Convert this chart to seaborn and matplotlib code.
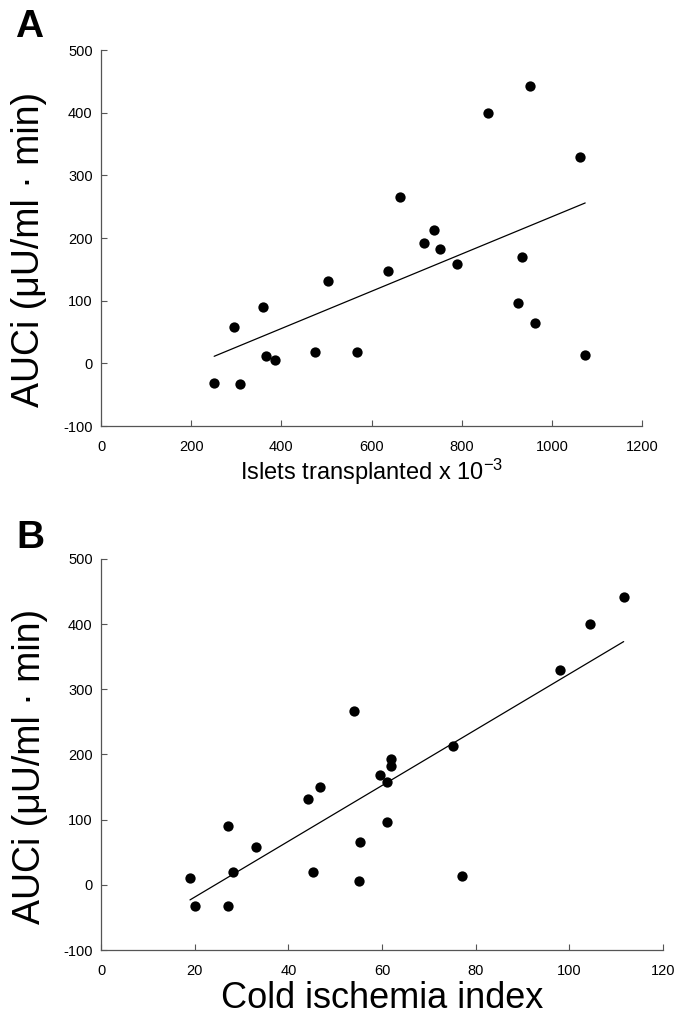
import matplotlib
matplotlib.use("Agg")
import matplotlib.pyplot as plt
import seaborn as sns
import numpy as np
import pandas as pd

# Panel A data: islets transplanted (x10^-3) vs AUCi
islets = [251, 296, 309, 360, 367, 387, 474, 503, 568, 637, 664, 717, 738, 753,
          789, 858, 925, 934, 951, 963, 1062, 1074]
auci_a = [-32, 58, -33, 90, 11, 6, 18.5, 132, 18.5, 148, 265, 192, 212, 182,
          159, 399, 96, 169, 442, 65, 329, 13]

# Panel B data: cold ischemia index vs AUCi
cold_index = [19.0, 20.0, 27.1, 27.1, 28.1, 33.1, 44.1, 45.2, 46.8, 54.1, 55.2,
              55.0, 59.6, 61.0, 61.0, 61.9, 61.9, 75.2, 77.0, 98.0, 104.5, 111.6]
auci_b = [11, -32, 90, -32, 20, 58, 132, 20, 150, 266, 65, 6, 169, 158, 97,
          193, 182, 213, 14, 330, 400, 442]

yticks = [-100, 0, 100, 200, 300, 400, 500]
xticks_a = [0, 200, 400, 600, 800, 1000, 1200]
xticks_b = [0, 20, 40, 60, 80, 100, 120]

ylabel = "AUCi (\u03bcU/ml \u00b7 min)"
xlabel_a = r"Islets transplanted x 10$^{-3}$"
xlabel_b = "Cold ischemia index"

sns.set_style("ticks")
plt.rcParams['font.family'] = ['Liberation Sans', 'DejaVu Sans']
plt.rcParams['mathtext.fontset'] = 'custom'
plt.rcParams['mathtext.rm'] = 'Liberation Sans'
plt.rcParams['mathtext.it'] = 'Liberation Sans'
plt.rcParams['axes.unicode_minus'] = False
plt.rcParams['text.color'] = 'black'
plt.rcParams['axes.labelcolor'] = 'black'
plt.rcParams['xtick.labelcolor'] = 'black'
plt.rcParams['ytick.labelcolor'] = 'black'

W, H = 676, 1017
fig = plt.figure(figsize=(W / 100, H / 100), dpi=100)

ax_a = fig.add_axes([101 / W, (H - 426) / H, 541 / W, 376 / H])
ax_b = fig.add_axes([101 / W, (H - 950) / H, 562 / W, 391 / H])

df_a = pd.DataFrame({"x": islets, "y": auci_a})
df_b = pd.DataFrame({"x": cold_index, "y": auci_b})

spine_col = "#555555"
for ax, df, xt, xl, xlsize, xlpos, ylx in [
        (ax_a, df_a, xticks_a, xlabel_a, 17, -0.083, -0.099),
        (ax_b, df_b, xticks_b, xlabel_b, 26, -0.08, -0.095)]:
    sns.regplot(data=df, x="x", y="y", ax=ax, ci=None, truncate=True,
                scatter_kws=dict(s=55, color="black", alpha=1, linewidths=0, zorder=3),
                line_kws=dict(color="black", linewidth=0.9))
    ax.set_xlim(xt[0], xt[-1])
    ax.set_ylim(-100, 500)
    ax.set_xticks(xt)
    ax.set_yticks(yticks)
    ax.tick_params(axis="both", direction="in", length=4, width=0.8,
                   color=spine_col, labelsize=10.5, labelcolor="black")
    ax.tick_params(axis="x", pad=10)
    ax.tick_params(axis="y", pad=6)
    for s in ["top", "right"]:
        ax.spines[s].set_visible(False)
    for s in ["left", "bottom"]:
        ax.spines[s].set_color(spine_col)
        ax.spines[s].set_linewidth(0.9)
    ax.set_xlabel(xl, fontsize=xlsize)
    ax.xaxis.set_label_coords(0.5, xlpos)
    ax.set_ylabel(ylabel, fontsize=27)
    ax.yaxis.set_label_coords(ylx, 0.47)

fig.text(15 / W, (H - 37) / H, "A", fontsize=28, fontweight="bold", va="baseline")
fig.text(16 / W, (H - 548) / H, "B", fontsize=28, fontweight="bold", va="baseline")

fig.savefig("out.png", dpi=100)
